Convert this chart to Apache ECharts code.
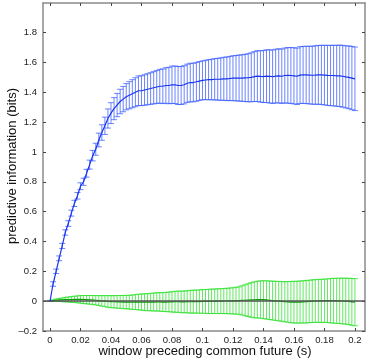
<!DOCTYPE html>
<html>
<head>
<meta charset="utf-8">
<script src="https://cdn.jsdelivr.net/npm/echarts@6/dist/echarts.min.js"></script>
<style>
  html, body { margin: 0; padding: 0; background: #fff; }
  #chart { width: 374px; height: 361px; }
</style>
</head>
<body>
<div id="chart"></div>
<script>
// window length (s)
const xs = [
  0, 0.002, 0.004, 0.006, 0.008, 0.01, 0.012, 0.014, 0.016, 0.018,
  0.02, 0.022, 0.024, 0.026, 0.028, 0.03, 0.032, 0.034, 0.036, 0.038,
  0.04, 0.042, 0.044, 0.046, 0.048, 0.05, 0.052, 0.054, 0.056, 0.058,
  0.06, 0.062, 0.064, 0.066, 0.068, 0.07, 0.072, 0.074, 0.076, 0.078,
  0.08, 0.082, 0.084, 0.086, 0.088, 0.09, 0.092, 0.094, 0.096, 0.098,
  0.1, 0.102, 0.104, 0.106, 0.108, 0.11, 0.112, 0.114, 0.116, 0.118,
  0.12, 0.122, 0.124, 0.126, 0.128, 0.13, 0.132, 0.134, 0.136, 0.138,
  0.14, 0.142, 0.144, 0.146, 0.148, 0.15, 0.152, 0.154, 0.156, 0.158,
  0.16, 0.162, 0.164, 0.166, 0.168, 0.17, 0.172, 0.174, 0.176, 0.178,
  0.18, 0.182, 0.184, 0.186, 0.188, 0.19, 0.192, 0.194, 0.196, 0.198,
  0.2
];

// blue: predictive information
const blueMean = [
  0, 0.115, 0.20, 0.287, 0.37, 0.46, 0.52, 0.59, 0.655, 0.706,
  0.77, 0.80, 0.857, 0.915, 0.975, 1.018, 1.08, 1.13, 1.175, 1.224,
  1.26, 1.29, 1.314, 1.338, 1.354, 1.37, 1.38, 1.39, 1.40, 1.41,
  1.41, 1.415, 1.42, 1.425, 1.43, 1.435, 1.44, 1.44, 1.445, 1.445,
  1.45, 1.45, 1.445, 1.445, 1.45, 1.46, 1.465, 1.465, 1.47, 1.475,
  1.48, 1.482, 1.484, 1.485, 1.487, 1.487, 1.488, 1.49, 1.49, 1.492,
  1.494, 1.494, 1.495, 1.495, 1.496, 1.497, 1.50, 1.505, 1.508, 1.506,
  1.505, 1.508, 1.506, 1.504, 1.508, 1.51, 1.507, 1.512, 1.513, 1.512,
  1.51, 1.507, 1.515, 1.516, 1.516, 1.515, 1.514, 1.515, 1.517, 1.516,
  1.515, 1.513, 1.512, 1.512, 1.51, 1.51, 1.507, 1.503, 1.50, 1.495,
  1.49
];
const blueErr = [
  0, 0.015, 0.015, 0.016, 0.017, 0.018, 0.019, 0.02, 0.021, 0.022,
  0.023, 0.024, 0.026, 0.03, 0.035, 0.04, 0.046, 0.052, 0.058, 0.064,
  0.07, 0.074, 0.078, 0.082, 0.085, 0.088, 0.091, 0.094, 0.097, 0.099,
  0.1, 0.102, 0.104, 0.106, 0.108, 0.11, 0.113, 0.116, 0.119, 0.122,
  0.125, 0.126, 0.127, 0.127, 0.128, 0.128, 0.129, 0.129, 0.13, 0.13,
  0.13, 0.132, 0.134, 0.136, 0.138, 0.14, 0.142, 0.144, 0.146, 0.148,
  0.15, 0.152, 0.154, 0.156, 0.158, 0.161, 0.164, 0.167, 0.17, 0.172,
  0.174, 0.176, 0.178, 0.179, 0.18, 0.181, 0.182, 0.184, 0.186, 0.187,
  0.188, 0.189, 0.19, 0.191, 0.192, 0.193, 0.194, 0.196, 0.197, 0.198,
  0.2, 0.201, 0.202, 0.203, 0.204, 0.206, 0.207, 0.208, 0.21, 0.212,
  0.213
];

// green: control
const greenMean = [
  0, 0.004, 0.006, 0.008, 0.009, 0.01, 0.011, 0.011, 0.012, 0.012,
  0.012, 0.011, 0.01, 0.009, 0.008, 0.006, 0.004, 0.002, 0.0, -0.002,
  -0.003, -0.004, -0.005, -0.005, -0.006, -0.006, -0.007, -0.007, -0.006, -0.006,
  -0.006, -0.007, -0.007, -0.006, -0.006, -0.005, -0.005, -0.006, -0.006, -0.005,
  -0.005, -0.004, -0.004, -0.005, -0.005, -0.004, -0.004, -0.003, -0.003, -0.003,
  -0.002, -0.002, -0.002, -0.001, -0.001, 0.0, 0.0, 0.001, 0.001, 0.002,
  0.002, 0.003, 0.004, 0.005, 0.006, 0.007, 0.008, 0.009, 0.01, 0.011,
  0.01, 0.008, 0.006, 0.004, 0.002, 0.0, -0.002, -0.004, -0.005, -0.006,
  -0.007, -0.007, -0.006, -0.005, -0.004, -0.002, 0.0, 0.001, 0.002, 0.002,
  0.003, 0.003, 0.003, 0.003, 0.002, 0.002, 0.001, 0.0, -0.002, -0.005,
  -0.007
];
const greenErr = [
  0, 0.006, 0.008, 0.01, 0.012, 0.015, 0.017, 0.019, 0.021, 0.023,
  0.025, 0.027, 0.028, 0.029, 0.03, 0.031, 0.033, 0.035, 0.037, 0.039,
  0.04, 0.041, 0.042, 0.043, 0.044, 0.045, 0.046, 0.048, 0.05, 0.052,
  0.054, 0.056, 0.057, 0.058, 0.06, 0.061, 0.062, 0.063, 0.064, 0.066,
  0.068, 0.07, 0.071, 0.072, 0.073, 0.074, 0.076, 0.077, 0.077, 0.078,
  0.079, 0.08, 0.081, 0.082, 0.082, 0.083, 0.083, 0.084, 0.085, 0.086,
  0.088, 0.09, 0.092, 0.098, 0.104, 0.11, 0.116, 0.12, 0.123, 0.125,
  0.127, 0.128, 0.129, 0.13, 0.131, 0.132, 0.133, 0.134, 0.136, 0.138,
  0.14, 0.14, 0.141, 0.141, 0.142, 0.142, 0.143, 0.143, 0.144, 0.144,
  0.145, 0.146, 0.148, 0.15, 0.151, 0.152, 0.153, 0.154, 0.155, 0.157,
  0.158
];

const xTicks = [0, 0.02, 0.04, 0.06, 0.08, 0.1, 0.12, 0.14, 0.16, 0.18, 0.2];
const yTicks = [-0.2, 0, 0.2, 0.4, 0.6, 0.8, 1, 1.2, 1.4, 1.6, 1.8];

const xTitle = 'window preceding common future (s)';
const yTitle = 'predictive information (bits)';

const xLim = [-0.0046, 0.2066];
const yLim = [-0.2, 1.998];

const fmt = v => {
  const s = String(+(+v).toFixed(3));
  return s.replace('-', '\u2013');
};

function errorBars(color) {
  return function (params, api) {
    const x = api.value(0);
    const top = api.coord([x, api.value(2)]);
    const bot = api.coord([x, api.value(1)]);
    const hw = 3;
    const style = { stroke: color, lineWidth: 1, opacity: 0.75 };
    return {
      type: 'group',
      children: [
        { type: 'line', shape: { x1: top[0], y1: top[1], x2: bot[0], y2: bot[1] }, style },
        { type: 'line', shape: { x1: top[0] - hw, y1: top[1], x2: top[0] + hw, y2: top[1] }, style },
        { type: 'line', shape: { x1: bot[0] - hw, y1: bot[1], x2: bot[0] + hw, y2: bot[1] }, style }
      ]
    };
  };
}

const frameLine = { show: true, onZero: false, lineStyle: { color: '#8a8a8a', width: 1.5 } };
const tickStyle = { color: '#444', width: 1 };
const labelFont = { fontSize: 9.5, color: '#222', fontFamily: 'Liberation Sans' };
const titleStyle = { fontSize: 13, fill: '#111', fontFamily: 'Liberation Sans', align: 'center', verticalAlign: 'middle' };

let myChart = echarts.init(document.getElementById('chart'), null, { renderer: 'canvas' });

let option = {
  animation: false,
  grid: { left: 43, right: 9, top: 3, bottom: 30, containLabel: false, outerBoundsMode: 'none' },
  graphic: [
    { type: 'text', x: 205, y: 351, style: Object.assign({ text: xTitle }, titleStyle) },
    { type: 'text', x: 12, y: 166, rotation: Math.PI / 2, style: Object.assign({ text: yTitle }, titleStyle) }
  ],
  xAxis: [
    {
      type: 'value', min: xLim[0], max: xLim[1], position: 'bottom',
      axisLine: frameLine,
      axisTick: { show: true, inside: true, length: 3, customValues: xTicks, lineStyle: tickStyle },
      axisLabel: Object.assign({ customValues: xTicks, formatter: fmt, margin: 4 }, labelFont),
      splitLine: { show: false }
    },
    {
      type: 'value', min: xLim[0], max: xLim[1], position: 'top',
      axisLine: frameLine,
      axisTick: { show: true, inside: true, length: 3, customValues: xTicks, lineStyle: tickStyle },
      axisLabel: { show: false },
      splitLine: { show: false }
    }
  ],
  yAxis: [
    {
      type: 'value', min: yLim[0], max: yLim[1], position: 'left',
      axisLine: frameLine,
      axisTick: { show: true, inside: true, length: 3, customValues: yTicks, lineStyle: tickStyle },
      axisLabel: Object.assign({ customValues: yTicks, formatter: fmt, margin: 6 }, labelFont),
      splitLine: { show: false }
    },
    {
      type: 'value', min: yLim[0], max: yLim[1], position: 'right',
      axisLine: frameLine,
      axisTick: { show: true, inside: true, length: 3, customValues: yTicks, lineStyle: tickStyle },
      axisLabel: { show: false },
      splitLine: { show: false }
    }
  ],
  series: [
    {
      type: 'custom', name: 'green err', renderItem: errorBars('#2ee02e'),
      data: xs.map((x, i) => [x, greenMean[i] - greenErr[i], greenMean[i] + greenErr[i]]),
      clip: false, silent: true, z: 2
    },
    {
      type: 'line', name: 'green', showSymbol: false,
      data: xs.map((x, i) => [x, greenMean[i]]),
      lineStyle: { color: '#0a9a0a', width: 1.2 }, z: 4,
      markLine: {
        silent: true, symbol: 'none', label: { show: false },
        lineStyle: { color: '#555', width: 1.5, type: 'solid' },
        data: [{ yAxis: 0 }]
      }
    },
    {
      type: 'custom', name: 'blue err', renderItem: errorBars('#3a5cff'),
      data: xs.map((x, i) => [x, blueMean[i] - blueErr[i], blueMean[i] + blueErr[i]]),
      clip: false, silent: true, z: 3
    },
    {
      type: 'line', name: 'blue', showSymbol: false,
      data: xs.map((x, i) => [x, blueMean[i]]),
      lineStyle: { color: '#1834f0', width: 1.2 }, z: 5
    }
  ]
};

option && myChart.setOption(option);
</script>
</body>
</html>
